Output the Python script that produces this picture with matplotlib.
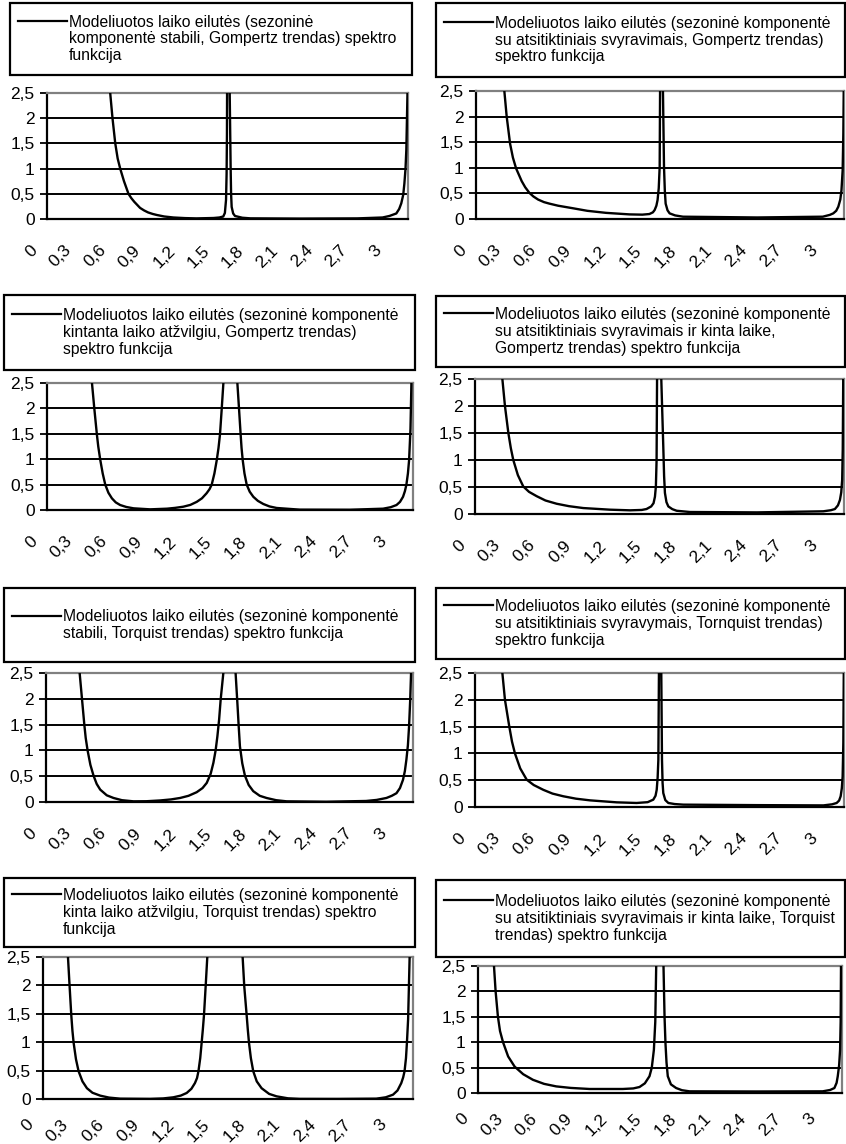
import numpy as np
import matplotlib
matplotlib.use("Agg")
import matplotlib.pyplot as plt
from matplotlib.patches import Rectangle
from matplotlib.lines import Line2D
from matplotlib.transforms import ScaledTranslation

plt.rcParams['font.family'] = ['Liberation Sans', 'DejaVu Sans']

PI = 3.1416

# spektro funkcijos reikšmės, nuskaitytos nuo paveikslo (virš 2,5 - už grafiko ribų)
f1 = [0, 0.52, 0.55, 0.57, 0.594, 0.615, 0.637, 0.67, 0.709, 0.735, 0.76, 0.785, 0.81, 0.845, 0.88,
      0.92, 0.955, 1.02, 1.1, 1.2, 1.3, 1.45, 1.5, 1.534, 1.548, 1.558, 1.563, 1.566, 1.575,
      1.59, 1.598, 1.602, 1.607, 1.62, 1.636, 1.7, 1.77, 2.2, 2.7, 2.92, 2.98, 3.04, 3.065,
      3.083, 3.1, 3.11, 3.12, 3.127, PI]
s1 = [30, 3.2, 2.5, 2.0, 1.5, 1.2, 1.0, 0.75, 0.5, 0.41, 0.34, 0.28, 0.22, 0.17, 0.13,
      0.1, 0.08, 0.05, 0.03, 0.018, 0.012, 0.02, 0.03, 0.05, 0.12, 0.38, 0.9, 1.7, 8.0,
      2.5, 1.04, 0.5, 0.24, 0.11, 0.06, 0.025, 0.013, 0.008, 0.012, 0.03, 0.06, 0.11, 0.2,
      0.31, 0.48, 0.7, 1.0, 1.37, 3.0]

f2 = [0, 0.22, 0.242, 0.262, 0.291, 0.315, 0.342, 0.39, 0.42, 0.456, 0.49, 0.53, 0.58, 0.627, 0.7,
      0.827, 0.95, 1.11, 1.31, 1.42, 1.48, 1.51, 1.525, 1.54, 1.55, 1.56, 1.568, 1.584, 1.596,
      1.605, 1.612, 1.619, 1.635, 1.653, 1.7, 1.767, 2.4, 2.96, 3.02, 3.05, 3.075, 3.093, 3.11,
      3.12, 3.13, 3.136, PI]
s2 = [30, 3.0, 2.5, 2.0, 1.47, 1.2, 0.99, 0.74, 0.62, 0.51, 0.44, 0.38, 0.33, 0.3, 0.26,
      0.21, 0.16, 0.12, 0.09, 0.085, 0.097, 0.13, 0.175, 0.26, 0.37, 0.6, 1.02, 8.0, 2.5,
      1.02, 0.55, 0.3, 0.17, 0.11, 0.07, 0.045, 0.03, 0.045, 0.08, 0.11, 0.16, 0.24, 0.38,
      0.56, 0.95, 1.67, 3.0]

f3 = [0, 0.37, 0.386, 0.406, 0.428, 0.44, 0.457, 0.478, 0.5, 0.527, 0.557, 0.59, 0.628, 0.68, 0.743,
      0.885, 1.03, 1.1, 1.17, 1.23, 1.285, 1.33, 1.37, 1.395, 1.414, 1.437, 1.457, 1.472, 1.485,
      1.5, 1.514, 1.53, 1.574, 1.62, 1.634, 1.648, 1.662, 1.67, 1.68, 1.695, 1.714, 1.74, 1.771,
      1.81, 1.857, 1.91, 1.971, 2.17, 2.6, 2.885, 2.95, 3.0, 3.03, 3.056, 3.072, 3.085, 3.098,
      3.108, 3.12, 3.128, PI]
s3 = [30, 3.0, 2.5, 2.0, 1.49, 1.25, 0.99, 0.72, 0.5, 0.34, 0.23, 0.15, 0.098, 0.06, 0.033,
      0.013, 0.026, 0.042, 0.065, 0.1, 0.16, 0.23, 0.33, 0.41, 0.5, 0.72, 0.98, 1.22, 1.49,
      2.0, 2.5, 3.0, 20, 3.0, 2.5, 2.0, 1.49, 1.22, 0.98, 0.72, 0.5, 0.36, 0.26,
      0.18, 0.118, 0.07, 0.04, 0.007, 0.005, 0.026, 0.055, 0.098, 0.16, 0.26, 0.37, 0.5, 0.72,
      0.98, 1.6, 2.5, 10]

f4 = [0, 0.22, 0.233, 0.255, 0.284, 0.305, 0.326, 0.365, 0.411, 0.46, 0.525, 0.6, 0.695, 0.8, 0.922,
      1.149, 1.32, 1.42, 1.46, 1.5, 1.52, 1.532, 1.54, 1.546, 1.55, 1.568, 1.586, 1.603, 1.61,
      1.617, 1.63, 1.646, 1.68, 1.717, 1.83, 2.4, 2.965, 3.03, 3.064, 3.09, 3.107, 3.118, 3.126,
      3.131, 3.135, PI]
s4 = [30, 3.0, 2.5, 2.0, 1.5, 1.22, 1.0, 0.72, 0.51, 0.41, 0.33, 0.25, 0.19, 0.145, 0.11,
      0.08, 0.068, 0.075, 0.092, 0.14, 0.2, 0.32, 0.51, 1.0, 2.5, 10, 2.5, 1.25, 0.7,
      0.39, 0.22, 0.14, 0.09, 0.06, 0.037, 0.03, 0.05, 0.07, 0.092, 0.16, 0.26, 0.4, 0.63,
      1.2, 2.5, 5]

f5 = [0, 0.27, 0.288, 0.308, 0.328, 0.34, 0.356, 0.38, 0.407, 0.434, 0.464, 0.52, 0.578, 0.65, 0.749,
      0.86, 0.977, 1.07, 1.148, 1.22, 1.29, 1.34, 1.376, 1.41, 1.433, 1.452, 1.467, 1.482, 1.495,
      1.518, 1.535, 1.57, 1.605, 1.623, 1.64, 1.65, 1.66, 1.68, 1.703, 1.735, 1.774, 1.83, 1.888,
      1.97, 2.06, 2.4, 2.74, 2.83, 2.914, 2.96, 3.0, 3.03, 3.056, 3.072, 3.085, 3.098, 3.108,
      3.118, 3.125, PI]
s5 = [30, 3.0, 2.5, 2.0, 1.5, 1.24, 1.0, 0.72, 0.51, 0.35, 0.24, 0.13, 0.078, 0.035, 0.013,
      0.015, 0.03, 0.05, 0.078, 0.12, 0.19, 0.27, 0.37, 0.55, 0.76, 1.0, 1.27, 1.6, 1.98,
      2.5, 3.0, 20, 3.0, 2.5, 1.85, 1.45, 1.08, 0.75, 0.51, 0.33, 0.21, 0.12, 0.078,
      0.035, 0.013, 0.005, 0.02, 0.04, 0.078, 0.12, 0.17, 0.27, 0.43, 0.6, 0.82, 1.1, 1.47,
      2.0, 2.5, 5]

f6 = [0, 0.22, 0.233, 0.255, 0.292, 0.315, 0.34, 0.385, 0.44, 0.5, 0.582, 0.66, 0.752, 0.86, 0.979,
      1.206, 1.376, 1.47, 1.518, 1.537, 1.547, 1.555, 1.561, 1.566, 1.576, 1.586, 1.592, 1.597,
      1.603, 1.62, 1.646, 1.7, 1.773, 2.4, 2.966, 3.04, 3.079, 3.1, 3.113, 3.123, 3.13, 3.136,
      3.14, PI]
s6 = [30, 3.0, 2.5, 2.0, 1.5, 1.22, 1.0, 0.72, 0.51, 0.41, 0.32, 0.25, 0.2, 0.155, 0.124,
      0.087, 0.075, 0.09, 0.137, 0.21, 0.32, 0.55, 0.88, 2.5, 10, 2.5, 0.88, 0.45,
      0.26, 0.13, 0.075, 0.055, 0.044, 0.035, 0.03, 0.05, 0.075, 0.12, 0.2, 0.35, 0.57, 1.2,
      2.5, 5]

f7 = [0, 0.2, 0.212, 0.226, 0.24, 0.25, 0.26, 0.28, 0.302, 0.335, 0.373, 0.42, 0.486, 0.56, 0.655,
      0.91, 1.02, 1.107, 1.17, 1.22, 1.26, 1.29, 1.308, 1.32, 1.335, 1.347, 1.357, 1.367, 1.381,
      1.395, 1.41, 1.545, 1.68, 1.695, 1.709, 1.729, 1.739, 1.749, 1.765, 1.785, 1.815, 1.856,
      1.92, 1.983, 2.08, 2.18, 2.5, 2.83, 2.91, 2.972, 3.01, 3.042, 3.058, 3.07, 3.082, 3.09,
      3.1, 3.113, 3.125, PI]
s7 = [30, 3.0, 2.5, 1.98, 1.48, 1.2, 0.99, 0.7, 0.49, 0.31, 0.19, 0.11, 0.059, 0.025, 0.006,
      0.002, 0.01, 0.03, 0.06, 0.106, 0.18, 0.28, 0.37, 0.49, 0.72, 0.99, 1.22, 1.48, 1.98,
      2.5, 3.0, 30, 3.0, 2.5, 1.98, 1.48, 1.22, 0.99, 0.72, 0.49, 0.31, 0.19,
      0.09, 0.047, 0.012, 0.002, 0.001, 0.006, 0.03, 0.076, 0.15, 0.28, 0.38, 0.49, 0.72, 0.99,
      1.4, 2.5, 3.0, 10]

f8 = [0, 0.13, 0.138, 0.152, 0.172, 0.19, 0.216, 0.26, 0.316, 0.39, 0.474, 0.57, 0.675, 0.8, 0.963,
      1.25, 1.34, 1.394, 1.44, 1.48, 1.5, 1.518, 1.53, 1.538, 1.57, 1.601, 1.61, 1.618, 1.627,
      1.638, 1.665, 1.71, 1.76, 1.825, 2.4, 2.975, 3.04, 3.076, 3.095, 3.105, 3.117, 3.125, 3.13,
      3.133, PI]
s8 = [30, 3.0, 2.5, 2.0, 1.5, 1.22, 1.0, 0.72, 0.52, 0.37, 0.26, 0.18, 0.13, 0.1, 0.079,
      0.079, 0.09, 0.118, 0.19, 0.33, 0.5, 0.85, 1.4, 2.5, 10, 2.5, 1.5, 0.98, 0.6,
      0.33, 0.17, 0.098, 0.055, 0.033, 0.03, 0.033, 0.06, 0.098, 0.2, 0.33, 0.55, 0.85, 1.4,
      2.5, 5]

labels = [
    "Modeliuotos laiko eilutės (sezoninė\nkomponentė stabili, Gompertz trendas) spektro\nfunkcija",
    "Modeliuotos laiko eilutės (sezoninė komponentė\nsu atsitiktiniais svyravimais, Gompertz trendas)\nspektro funkcija",
    "Modeliuotos laiko eilutės (sezoninė komponentė\nkintanta laiko atžvilgiu, Gompertz trendas)\nspektro funkcija",
    "Modeliuotos laiko eilutės (sezoninė komponentė\nsu atsitiktiniais svyravimais ir kinta laike,\nGompertz trendas) spektro funkcija",
    "Modeliuotos laiko eilutės (sezoninė komponentė\nstabili, Torquist trendas) spektro funkcija",
    "Modeliuotos laiko eilutės (sezoninė komponentė\nsu atsitiktiniais svyravymais, Tornquist trendas)\nspektro funkcija",
    "Modeliuotos laiko eilutės (sezoninė komponentė\nkinta laiko atžvilgiu, Torquist trendas) spektro\nfunkcija",
    "Modeliuotos laiko eilutės (sezoninė komponentė\nsu atsitiktiniais svyravimais ir kinta laike, Torquist\ntrendas) spektro funkcija",
]

x_ticks = [0, 0.3, 0.6, 0.9, 1.2, 1.5, 1.8, 2.1, 2.4, 2.7, 3.0]
x_tick_labels = ["0", "0,3", "0,6", "0,9", "1,2", "1,5", "1,8", "2,1", "2,4", "2,7", "3"]
y_ticks = [0, 0.5, 1, 1.5, 2, 2.5]
y_tick_labels = ["0", "0,5", "1", "1,5", "2", "2,5"]

freqs = [f1, f2, f3, f4, f5, f6, f7, f8]
specs = [s1, s2, s3, s4, s5, s6, s7, s8]

# išdėstymas pikseliais (kairė, viršus, dešinė, apačia)
plot_boxes = [(47, 93, 408, 219), (476, 91, 844, 219),
              (47, 383, 413, 510), (475, 379, 844, 514),
              (46, 673, 413, 802), (475, 673, 844, 807),
              (43, 957, 413, 1099), (478, 966, 842, 1093)]
legend_boxes = [(10, 3, 412, 75), (436, 3, 845, 77),
                (4, 295, 415, 370), (436, 296, 845, 367),
                (4, 588, 415, 662), (436, 588, 845, 659),
                (4, 878, 415, 947), (436, 880, 845, 957)]

W, H = 846, 1144
fig = plt.figure(figsize=(W / 100, H / 100), dpi=100)

for i in range(8):
    l, t, r, b = plot_boxes[i]
    ax = fig.add_axes([l / W, 1 - b / H, (r - l) / W, (b - t) / H])
    ax.plot(freqs[i], specs[i], color='black', lw=1.7, zorder=3)
    ax.set_xlim(0, PI)
    ax.set_ylim(0, 2.5)
    ax.set_yticks(y_ticks)
    ax.set_yticklabels(y_tick_labels, fontsize=12.5)
    ax.set_xticks(x_ticks)
    ax.set_xticklabels(x_tick_labels, fontsize=12.5, rotation=45, ha='right', va='top')
    ax.tick_params(axis='x', length=0, pad=17 if i < 6 else 13)
    ax.tick_params(axis='y', length=5, width=1.3, pad=4, direction='out')
    off = ScaledTranslation(-0.07, 0, fig.dpi_scale_trans)
    for lab in ax.get_xticklabels():
        lab.set_transform(lab.get_transform() + off)
    ax.grid(axis='y', color='black', lw=1.4)
    ax.set_axisbelow(True)
    for side in ['top', 'right']:
        ax.spines[side].set_color('#808080')
        ax.spines[side].set_linewidth(1.6)
    for side in ['left', 'bottom']:
        ax.spines[side].set_color('black')
        ax.spines[side].set_linewidth(1.6)

    # legendos langelis
    l, t, r, b = legend_boxes[i]
    fig.patches.append(Rectangle((l / W, 1 - b / H), (r - l) / W, (b - t) / H,
                                 transform=fig.transFigure, facecolor='white',
                                 edgecolor='black', lw=1.6))
    n_lines = labels[i].count("\n") + 1
    yc = (t + b) / 2
    y_first = yc - (n_lines - 1) / 2 * 18.3
    fig.lines.append(Line2D([(l + 8) / W, (l + 57) / W], [1 - y_first / H, 1 - y_first / H],
                            transform=fig.transFigure, color='black', lw=1.6))
    fig.text((l + 59) / W, 1 - yc / H, labels[i], fontsize=11.35, ha='left', va='center',
             linespacing=1.15)

fig.savefig("out.png", dpi=100)
